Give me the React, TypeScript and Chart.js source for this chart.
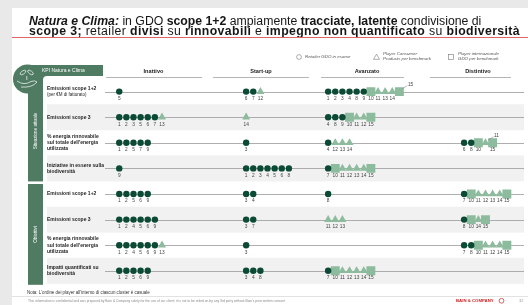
import React, { useEffect, useRef } from "react";
import { Chart, registerables } from "chart.js";

Chart.register(...registerables);

// ---------------- DATA ----------------
const levels = ["Inattivo", "Start-up", "Avanzato", "Distintivo"];

const kpiRows: string[][] = [
  ["Emissioni scope 1+2", "(per €M di fatturato)"],
  ["Emissioni scope 3"],
  ["% energia rinnovabile", "sul totale dell'energia", "utilizzata"],
  ["Iniziative in essere sulla", "biodiversità"],
  ["Emissioni scope 1+2"],
  ["Emissioni scope 3"],
  ["% energia rinnovabile", "sul totale dell'energia", "utilizzata"],
  ["Impatti quantificati su", "biodiversità"],
];

const sections = ["Situazione attuale", "Obiettivi"];

// player ids per cluster, one list per KPI row
const inattivo: number[][] = [
  [5], [1, 2, 3, 5, 6, 7, 13], [1, 2, 5, 7, 9], [9],
  [1, 2, 5, 6, 9], [1, 2, 4, 5, 6, 9], [1, 2, 4, 5, 6, 9, 13], [1, 2, 5, 6, 9],
];
const startUp: number[][] = [
  [6, 7, 12], [14], [3], [1, 2, 3, 4, 5, 6, 8],
  [3, 4], [3, 7], [3], [3, 4, 8],
];
const avanzato: number[][] = [
  [1, 2, 3, 4, 8, 9, 10, 11, 13, 14, 15], [4, 8, 9, 10, 11, 12, 15], [4, 12, 13, 14], [7, 10, 11, 12, 13, 14, 15],
  [8], [11, 12, 13], [], [7, 10, 11, 12, 13, 14, 15],
];
const distintivo: number[][] = [
  [], [], [6, 8, 10, 11, 15], [],
  [7, 10, 11, 12, 13, 14, 15], [8, 10, 14, 15], [7, 8, 10, 11, 12, 14, 15], [],
];

const retailerIds = [1, 2, 3, 4, 5, 6, 7, 8, 9];
const consumerIds = [11, 12, 13, 14];
const internationalIds = [10, 15];

// labels shown above-right with a leader line: [row, id]
const calloutLabels: [number, number][] = [[0, 15], [2, 11]];

const legendLabels = [
  ["Retailer GDO in esame"],
  ["Player Consumer", "Products per benchmark"],
  ["Player internazionale", "GDO per benchmark"],
];

const titleLine1: [string, string][] = [
  ["Natura e Clima:", "bi"], [" in GDO ", "n"], ["scope 1+2", "b"], [" ampiamente ", "n"],
  ["tracciate, latente", "b"], [" condivisione di", "n"],
];
const titleLine2: [string, string][] = [
  ["scope 3;", "b"], [" retailer ", "n"], ["divisi", "b"], [" su ", "n"], ["rinnovabili", "b"],
  [" e ", "n"], ["impegno non quantificato", "b"], [" su ", "n"], ["biodiversità", "b"],
];

const noteText = "Nota: L'ordine dei player all'interno di ciascun cluster è casuale";
const disclaimer =
  "This information is confidential and was prepared by Bain & Company solely for the use of our client; it is not to be relied on by any 3rd party without Bain's prior written consent";
const brand = "BAIN & COMPANY";
const pageNo = "32";

// ---------------- LAYOUT / STYLE ----------------
const W = 528;
const H = 305;
const FONT = '"Liberation Sans", Arial, sans-serif';
const clusterStart = [115.7, 245.7, 329.7, 469];
const markerStep = 7.3;
const firstRowPx = 89;
const rowPx = 26.7;
const headerCenters = [153.5, 261, 367, 478];
const headerLines = [[106, 202], [213, 309], [321, 404], [430, 511]];
const DARK = "#0b4a34";
const LIGHT = "#8dbb9d";
const PANEL = "#4e7b62";

type Pt = { x: number; y: number; id: number };

function buildPoints() {
  const clusters = [inattivo, startUp, avanzato, distintivo];
  const ret: Pt[] = [];
  const con: Pt[] = [];
  const intl: Pt[] = [];
  clusters.forEach((cl, l) => {
    cl.forEach((ids, r) => {
      ids.forEach((id, k) => {
        const p = { x: clusterStart[l] + k * markerStep, y: r, id };
        if (retailerIds.includes(id)) ret.push(p);
        else if (consumerIds.includes(id)) con.push(p);
        else if (internationalIds.includes(id)) intl.push(p);
      });
    });
  });
  return { ret, con, intl };
}

function styleFont(s: string, size: number) {
  if (s === "bi") return `italic bold ${size}px ${FONT}`;
  if (s === "b") return `bold ${size}px ${FONT}`;
  return `${size}px ${FONT}`;
}

function fitSize(ctx: CanvasRenderingContext2D, text: string, mk: (s: number) => string, width: number) {
  ctx.font = mk(10);
  const w = ctx.measureText(text).width;
  return (10 * width) / w;
}

function segWidth(ctx: CanvasRenderingContext2D, segs: [string, string][], size: number) {
  let w = 0;
  segs.forEach(([t, s]) => {
    ctx.font = styleFont(s, size);
    w += ctx.measureText(t).width;
  });
  return w;
}

const slidePlugin = {
  id: "slide",
  beforeDraw(chart: any) {
    const ctx: CanvasRenderingContext2D = chart.ctx;
    const ys = chart.scales.y;
    const rowY = (i: number) => ys.getPixelForValue(i);
    ctx.save();
    // background
    ctx.fillStyle = "#e9e9e9";
    ctx.fillRect(0, 0, W, H);
    ctx.fillStyle = "#ffffff";
    ctx.fillRect(12, 8, W - 12, H - 8);

    // title
    ctx.textBaseline = "middle";
    ctx.fillStyle = "#161616";
    const tSize = (10 * 453) / segWidth(ctx, titleLine1, 10);
    const w2 = segWidth(ctx, titleLine2, tSize);
    const chars2 = titleLine2.reduce((a, [t]) => a + t.length, 0);
    const extra = (491 - w2) / chars2;
    const drawLine = (segs: [string, string][], y: number, ls: number) => {
      let x = 29;
      segs.forEach(([t, s]) => {
        ctx.font = styleFont(s, tSize);
        for (const ch of t) {
          ctx.fillText(ch, x, y);
          x += ctx.measureText(ch).width + ls;
        }
      });
    };
    drawLine(titleLine1, 21.5, 0);
    drawLine(titleLine2, 31.5, extra);
    ctx.strokeStyle = "#e06666";
    ctx.lineWidth = 1;
    ctx.beginPath();
    ctx.moveTo(12, 37.5);
    ctx.lineTo(W, 37.5);
    ctx.stroke();

    // legend
    ctx.strokeStyle = "#777";
    ctx.lineWidth = 0.6;
    ctx.fillStyle = "#555";
    ctx.beginPath();
    ctx.arc(299, 57, 2.4, 0, Math.PI * 2);
    ctx.stroke();
    ctx.beginPath();
    ctx.moveTo(376.5, 54.2);
    ctx.lineTo(379.5, 59.3);
    ctx.lineTo(373.5, 59.3);
    ctx.closePath();
    ctx.stroke();
    ctx.strokeRect(448.5, 54.5, 5, 5);
    ctx.font = `italic 4.4px ${FONT}`;
    ctx.textAlign = "left";
    ctx.fillText(legendLabels[0][0], 305, 57);
    ctx.fillText(legendLabels[1][0], 383, 53.5);
    ctx.fillText(legendLabels[1][1], 383, 58.5);
    ctx.fillText(legendLabels[2][0], 458, 53.5);
    ctx.fillText(legendLabels[2][1], 458, 58.5);

    // column headers
    ctx.fillStyle = "#222";
    ctx.font = `bold 5.6px ${FONT}`;
    ctx.textAlign = "center";
    levels.forEach((l, i) => ctx.fillText(l, headerCenters[i], 71.5));
    ctx.strokeStyle = "#b5b5b5";
    ctx.lineWidth = 1;
    headerLines.forEach(([a, b]) => {
      ctx.beginPath();
      ctx.moveTo(a, 77.5);
      ctx.lineTo(b, 77.5);
      ctx.stroke();
    });

    // row bands
    ctx.fillStyle = "#f1f1f1";
    kpiRows.forEach((_, i) => {
      if (i % 2 === 1) ctx.fillRect(47, rowY(i) - 13, 477, 26);
    });

    // left panel
    ctx.fillStyle = PANEL;
    const b1Bottom = rowY(3) + 13;
    const b2Top = rowY(4) - 10;
    const b2Bottom = rowY(7) + 14;
    ctx.fillRect(27, 65, 76, 11);
    ctx.fillRect(28, 65, 15, b1Bottom - 65);
    ctx.beginPath();
    ctx.arc(27.5, 79, 14.5, 0, Math.PI * 2);
    ctx.fill();
    ctx.fillRect(43, 76, 4, 4);
    ctx.fillStyle = "#fff";
    ctx.beginPath();
    ctx.arc(47, 80, 4, 0, Math.PI * 2);
    ctx.fill();
    ctx.fillStyle = PANEL;
    ctx.fillRect(28, b2Top, 15, b2Bottom - b2Top);
    // icon
    ctx.strokeStyle = "#fff";
    ctx.lineWidth = 0.7;
    ctx.beginPath();
    ctx.ellipse(23, 72.5, 3.2, 1.6, -0.6, 0, Math.PI * 2);
    ctx.stroke();
    ctx.beginPath();
    ctx.ellipse(30.5, 72.5, 3.2, 1.6, 0.6, 0, Math.PI * 2);
    ctx.stroke();
    ctx.beginPath();
    ctx.moveTo(26.8, 76);
    ctx.lineTo(26.8, 80);
    ctx.stroke();
    ctx.beginPath();
    ctx.moveTo(17, 81);
    ctx.quadraticCurveTo(24, 86, 31, 81.5);
    ctx.quadraticCurveTo(35, 80, 37, 82);
    ctx.quadraticCurveTo(32, 88, 21, 87);
    ctx.stroke();
    // header text
    ctx.fillStyle = "#fff";
    ctx.font = `5px ${FONT}`;
    ctx.textAlign = "left";
    ctx.fillText("KPI Natura e Clima", 42, 71);
    // vertical section labels
    const vlabel = (t: string, cy: number) => {
      ctx.save();
      ctx.translate(35.8, cy);
      ctx.rotate(-Math.PI / 2);
      ctx.textAlign = "center";
      ctx.font = `4.6px ${FONT}`;
      ctx.fillStyle = "#fff";
      ctx.fillText(t, 0, 0);
      ctx.restore();
    };
    vlabel(sections[0], 131);
    vlabel(sections[1], (b2Top + b2Bottom) / 2);

    // row lines and labels
    kpiRows.forEach((lines, i) => {
      const y = rowY(i);
      ctx.strokeStyle = "#9a9a9a";
      ctx.lineWidth = 0.8;
      ctx.beginPath();
      ctx.moveTo(105, Math.round(y) + 0.5);
      ctx.lineTo(524, Math.round(y) + 0.5);
      ctx.stroke();
      const lh = 6.3;
      const y0 = y - ((lines.length - 1) * lh) / 2;
      ctx.textAlign = "left";
      ctx.fillStyle = "#1e1e1e";
      lines.forEach((t, k) => {
        const sub = t.startsWith("(");
        ctx.font = sub ? `4.5px ${FONT}` : `bold 5px ${FONT}`;
        ctx.fillText(t, 47, y0 + k * lh);
      });
    });

    // note + footer
    ctx.fillStyle = "#333";
    const ns = fitSize(ctx, noteText, (s) => `${s}px ${FONT}`, 123);
    ctx.font = `${ns}px ${FONT}`;
    ctx.textAlign = "left";
    ctx.fillText(noteText, 27, 293);
    ctx.strokeStyle = "#e2e2e2";
    ctx.lineWidth = 1;
    ctx.beginPath();
    ctx.moveTo(12, 296.5);
    ctx.lineTo(W, 296.5);
    ctx.stroke();
    ctx.fillStyle = "#8a8a8a";
    const ds = fitSize(ctx, disclaimer, (s) => `${s}px ${FONT}`, 258);
    ctx.font = `${ds}px ${FONT}`;
    ctx.fillText(disclaimer, 28, 301);
    ctx.fillStyle = "#cc1f1f";
    ctx.font = `bold 4.3px ${FONT}`;
    ctx.fillText(brand, 456, 301);
    ctx.strokeStyle = "#cc1f1f";
    ctx.lineWidth = 0.7;
    ctx.beginPath();
    ctx.arc(501.5, 300.8, 2.4, 0, Math.PI * 2);
    ctx.stroke();
    ctx.fillStyle = "#999";
    ctx.font = `4px ${FONT}`;
    ctx.fillText(pageNo, 519, 301);
    ctx.restore();
  },
  afterDatasetsDraw(chart: any) {
    const ctx: CanvasRenderingContext2D = chart.ctx;
    ctx.save();
    ctx.fillStyle = "#444";
    ctx.font = `4.8px ${FONT}`;
    ctx.textAlign = "center";
    ctx.textBaseline = "middle";
    ctx.strokeStyle = "#777";
    ctx.lineWidth = 0.5;
    chart.data.datasets.forEach((ds: any, di: number) => {
      const meta = chart.getDatasetMeta(di);
      meta.data.forEach((el: any, j: number) => {
        const p = ds.data[j];
        const isCallout = calloutLabels.some(([r, id]) => r === p.y && id === p.id);
        if (isCallout) {
          ctx.beginPath();
          ctx.moveTo(el.x + 3, el.y - 3);
          ctx.lineTo(el.x + 8, el.y - 6);
          ctx.stroke();
          ctx.textAlign = "left";
          ctx.fillText(String(p.id), el.x + 8.5, el.y - 7);
          ctx.textAlign = "center";
        } else {
          ctx.fillText(String(p.id), el.x, el.y + 7);
        }
      });
    });
    ctx.restore();
  },
};

export default function App() {
  const ref = useRef<HTMLCanvasElement | null>(null);
  useEffect(() => {
    document.body.style.margin = "0";
    const canvas = ref.current;
    if (!canvas) return;
    const { ret, con, intl } = buildPoints();
    const chart = new Chart(canvas, {
      type: "scatter",
      data: {
        datasets: [
          { label: "Retailer GDO in esame", data: ret, pointStyle: "circle", pointRadius: 3.2, pointBackgroundColor: DARK, pointBorderColor: DARK, pointBorderWidth: 0 },
          { label: "Player Consumer Products per benchmark", data: con, pointStyle: "triangle", pointRadius: 4.6, pointBackgroundColor: LIGHT, pointBorderColor: LIGHT, pointBorderWidth: 0 },
          { label: "Player internazionale GDO per benchmark", data: intl, pointStyle: "rect", pointRadius: 6.3, pointBackgroundColor: LIGHT, pointBorderColor: LIGHT, pointBorderWidth: 0 },
        ] as any,
      },
      options: {
        responsive: false,
        devicePixelRatio: 1,
        animation: false,
        events: [],
        layout: { padding: 0 },
        scales: {
          x: { type: "linear", min: 0, max: W, display: false },
          y: { type: "linear", min: -firstRowPx / rowPx, max: (H - firstRowPx) / rowPx, reverse: true, display: false },
        },
        plugins: { legend: { display: false }, tooltip: { enabled: false } },
      } as any,
      plugins: [slidePlugin as any],
    });
    return () => chart.destroy();
  }, []);
  return (
    <div style={{ width: W, height: H }}>
      <canvas ref={ref} width={W} height={H} style={{ display: "block" }} />
    </div>
  );
}
